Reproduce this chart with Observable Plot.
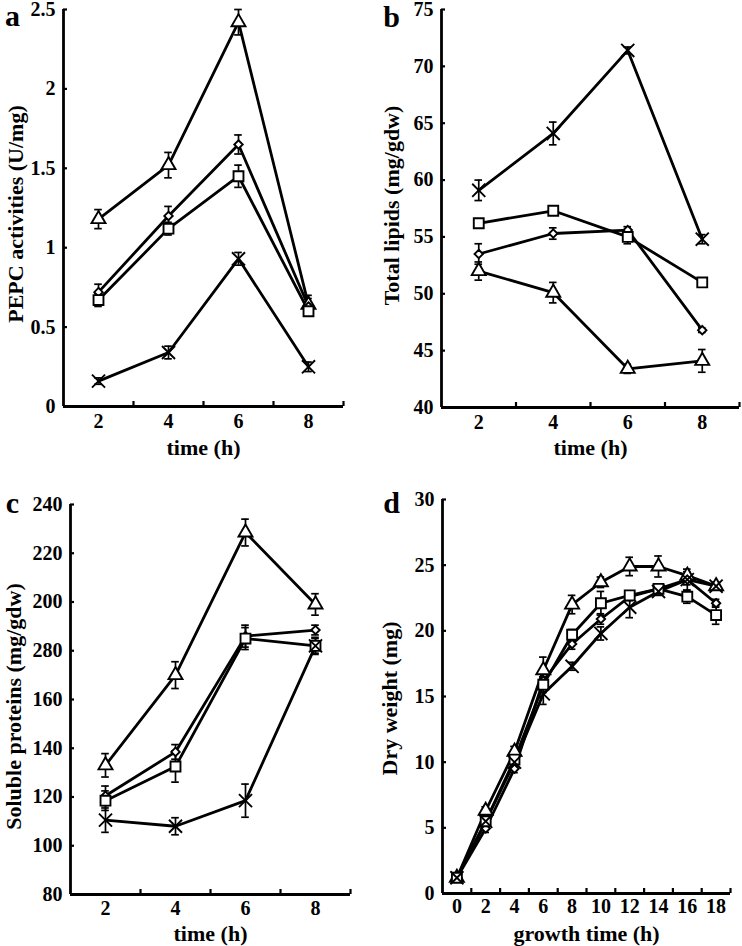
<!DOCTYPE html>
<html><head><meta charset="utf-8">
<script src="https://cdn.jsdelivr.net/npm/d3@7"></script>
<script src="https://cdn.jsdelivr.net/npm/@observablehq/plot@0.6"></script>
<style>
body{margin:0;background:#fff;}
#fig{position:relative;width:742px;height:946px;background:#fff;overflow:hidden;}
#fig svg{position:absolute;}
</style></head><body><div id="fig"></div>
<script>
// ---------- Data ----------
const seriesNames = ["triangle", "diamond", "square", "times"];

// Panel a: PEPC activities (U/mg)
const timeA = [2, 4, 6, 8];
const pepcTri = [1.18, 1.52, 2.42, 0.64];
const pepcTriErr = [0.06, 0.08, 0.08, 0.06];
const pepcDia = [0.72, 1.20, 1.65, 0.63];
const pepcDiaErr = [0.05, 0.06, 0.06, 0.05];
const pepcSq = [0.67, 1.12, 1.45, 0.60];
const pepcSqErr = [0.04, 0.04, 0.07, 0.03];
const pepcX = [0.16, 0.34, 0.93, 0.25];
const pepcXErr = [0.02, 0.04, 0.04, 0.03];
const aYTicks = [0, 0.5, 1, 1.5, 2, 2.5];

// Panel b: Total lipids (mg/gdw)
const timeB = [2, 4, 6, 8];
const lipX = [59.1, 64.1, 71.4, 54.8];
const lipXErr = [0.9, 1.0, 0.3, 0.4];
const lipSq = [56.2, 57.3, 55.0, 51.0];
const lipSqErr = [0.3, 0.3, 0.6, 0.3];
const lipDia = [53.5, 55.3, 55.6, 46.8];
const lipDiaErr = [0.9, 0.5, 0.3, 0.2];
const lipTri = [52.0, 50.1, 43.4, 44.1];
const lipTriErr = [0.8, 0.9, 0.4, 1.0];
const bYTicks = [40, 45, 50, 55, 60, 65, 70, 75];

// Panel c: Soluble proteins (mg/gdw)
const timeC = [2, 4, 6, 8];
const protTri = [133, 170, 228.5, 199];
const protTriErr = [4.8, 5.5, 5.5, 4.4];
const protDia = [120.5, 138.5, 186, 188.5];
const protDiaErr = [4, 3, 4.5, 2];
const protSq = [118.5, 132.5, 185, 182];
const protSqErr = [4, 6.4, 4.5, 3.5];
const protX = [110.5, 108, 118.5, 182];
const protXErr = [5, 3.5, 6.8, 3];
const cYTicks = [80, 100, 120, 140, 160, 180, 200, 220, 240];
const cYTickLabels = ["80", "100", "120", "140", "160", "280", "200", "220", "240"];

// Panel d: Dry weight (mg)
const timeD = [0, 2, 4, 6, 8, 10, 12, 14, 16, 18];
const dwTri = [1.2, 6.3, 10.8, 17.0, 22.0, 23.7, 24.9, 24.9, 24.2, 23.4];
const dwTriErr = [0.2, 0.3, 0.4, 1.0, 0.7, 0.4, 0.7, 0.8, 0.3, 0.3];
const dwSq = [1.2, 5.5, 10.2, 15.9, 19.7, 22.1, 22.7, 23.2, 22.6, 21.2];
const dwSqErr = [0.2, 0.3, 0.3, 0.6, 0.4, 0.9, 0.3, 0.3, 0.5, 0.7];
const dwDia = [1.2, 4.95, 9.5, 16.2, 19.0, 20.9, 22.6, 23.2, 23.9, 22.1];
const dwDiaErr = [0.2, 0.3, 0.3, 0.5, 0.4, 0.4, 0.3, 0.3, 0.4, 0.3];
const dwX = [1.2, 5.5, 10.0, 15.2, 17.3, 19.8, 21.8, 23.0, 23.9, 23.4];
const dwXErr = [0.2, 0.3, 0.3, 0.8, 0.3, 0.5, 0.8, 0.3, 0.8, 0.3];
const dYTicks = [0, 5, 10, 15, 20, 25, 30];

// ---------- helpers ----------
function rows(xs, groups) {
  const out = [];
  for (const [s, ys, es] of groups) xs.forEach((x, i) => out.push({s, x, y: ys[i], e: es[i]}));
  return out;
}
const FONT = "'Liberation Serif', 'Times New Roman', serif";
const symbolOpts = {
  triangle: {symbol: "triangle", r: 5.2},
  diamond: {symbol: "diamond2", r: 3.8},
  square: {symbol: "square", r: 5.6},
  times: {symbol: "times", r: 6.0}
};
const centered = {textAnchor: "middle", lineAnchor: "middle", fontWeight: "bold", fontFamily: FONT};

function panel(cfg) {
  const {data, xDomain, yDomain, xTickMarks, xTickLabels, yTicks, yFormat,
         width, height, m, xTitle, yTitle, letter, yTitleDx, yTitleDy, letterDx, letterDy, xTitleDy, xPad} = cfg;
  const marks = [
    // axis lines
    Plot.ruleY([yDomain[0]], {strokeWidth: 2.8}),
    Plot.ruleX([xDomain[0]], {strokeWidth: 2.8}),
    // inward tick marks
    Plot.ruleX(xTickMarks, {x: d => d, y1: yDomain[0], y2: yDomain[0], insetTop: -5, strokeWidth: 2.2}),
    Plot.ruleY(yTicks, {y: d => d, x1: xDomain[0], x2: xDomain[0], insetRight: -4, strokeWidth: 2.2}),
    // tick labels
    Plot.axisX({ticks: xTickLabels, tickSize: 0, tickPadding: xPad, label: null, fontSize: 20, fontWeight: "bold", fontFamily: FONT}),
    Plot.axisY({ticks: yTicks, tickSize: 0, tickPadding: 8, tickFormat: yFormat, label: null, fontSize: 20, fontWeight: "bold", fontFamily: FONT}),
    // axis titles
    Plot.text([xTitle], {text: d => d, frameAnchor: "bottom", dy: xTitleDy, fontSize: 22, ...centered}),
    Plot.text([yTitle], {text: d => d, frameAnchor: "left", rotate: -90, dx: yTitleDx, dy: yTitleDy, fontSize: 22, ...centered}),
    Plot.text([letter], {text: d => d, frameAnchor: "top-left", dx: letterDx, dy: letterDy, fontSize: 30, ...centered}),
    // series lines
    Plot.line(data, {x: "x", y: "y", z: "s", stroke: "black", strokeWidth: 2.8}),
    // error bars
    Plot.ruleX(data, {x: "x", y1: d => d.y - d.e, y2: d => d.y + d.e, strokeWidth: 1.7}),
    Plot.ruleY(data, {y: d => d.y + d.e, x1: "x", x2: "x", insetLeft: -3.8, insetRight: -3.8, strokeWidth: 1.7}),
    Plot.ruleY(data, {y: d => d.y - d.e, x1: "x", x2: "x", insetLeft: -3.8, insetRight: -3.8, strokeWidth: 1.7})
  ];
  for (const s of seriesNames) {
    marks.push(Plot.dot(data.filter(d => d.s === s), {x: "x", y: "y", ...symbolOpts[s], fill: "white", stroke: "black", strokeWidth: 1.9}));
  }
  return Plot.plot({
    width, height,
    marginTop: m[0], marginRight: m[1], marginBottom: m[2], marginLeft: m[3],
    x: {domain: xDomain},
    y: {domain: yDomain},
    style: {fontFamily: FONT, fontSize: "20px", fontWeight: "bold", color: "black", background: "white", overflow: "visible"},
    marks
  });
}

const fig = document.getElementById("fig");
function place(svg, left, top) { svg.style.left = left + "px"; svg.style.top = top + "px"; fig.appendChild(svg); }

place(panel({
  data: rows(timeA, [["triangle", pepcTri, pepcTriErr], ["diamond", pepcDia, pepcDiaErr], ["square", pepcSq, pepcSqErr], ["times", pepcX, pepcXErr]]),
  xDomain: [1, 9], yDomain: [0, 2.5], xTickMarks: [3, 5, 7, 9], xTickLabels: [2, 4, 6, 8],
  yTicks: aYTicks, yFormat: d => String(d),
  width: 371, height: 460, m: [9, 28, 54, 63],
  xTitle: "time (h)", yTitle: "PEPC activities (U/mg)", letter: "a",
  yTitleDx: -48, yTitleDy: 6, letterDx: -51, letterDy: 7, xTitleDy: 41, xPad: 7
}), 0, 0);

place(panel({
  data: rows(timeB, [["times", lipX, lipXErr], ["square", lipSq, lipSqErr], ["diamond", lipDia, lipDiaErr], ["triangle", lipTri, lipTriErr]]),
  xDomain: [1, 9], yDomain: [40, 75], xTickMarks: [3, 5, 7, 9], xTickLabels: [2, 4, 6, 8],
  yTicks: bYTicks, yFormat: d => String(d),
  width: 371, height: 460, m: [9, 3, 53, 70],
  xTitle: "time (h)", yTitle: "Total lipids (mg/gdw)", letter: "b",
  yTitleDx: -50, yTitleDy: -3, letterDx: -50, letterDy: 8, xTitleDy: 40, xPad: 7
}), 371, 0);

place(panel({
  data: rows(timeC, [["triangle", protTri, protTriErr], ["diamond", protDia, protDiaErr], ["square", protSq, protSqErr], ["times", protX, protXErr]]),
  xDomain: [1, 9], yDomain: [80, 240], xTickMarks: [3, 5, 7, 9], xTickLabels: [2, 4, 6, 8],
  yTicks: cYTicks, yFormat: (d, i) => cYTickLabels[i],
  width: 371, height: 486, m: [44, 21, 52, 70],
  xTitle: "time (h)", yTitle: "Soluble proteins (mg/gdw)", letter: "c",
  yTitleDx: -57, yTitleDy: 7, letterDx: -58, letterDy: -1, xTitleDy: 39, xPad: 6
}), 0, 460);

place(panel({
  data: rows(timeD, [["triangle", dwTri, dwTriErr], ["square", dwSq, dwSqErr], ["diamond", dwDia, dwDiaErr], ["times", dwX, dwXErr]]),
  xDomain: [-1, 19], yDomain: [0, 30], xTickMarks: [1, 3, 5, 7, 9, 11, 13, 15, 17, 19], xTickLabels: timeD,
  yTicks: dYTicks, yFormat: d => String(d),
  width: 371, height: 486, m: [39, 12, 53, 71],
  xTitle: "growth time (h)", yTitle: "Dry weight (mg)", letter: "d",
  yTitleDx: -53, yTitleDy: 2, letterDx: -51, letterDy: 4, xTitleDy: 40, xPad: 5
}), 371, 460);
</script></body></html>
